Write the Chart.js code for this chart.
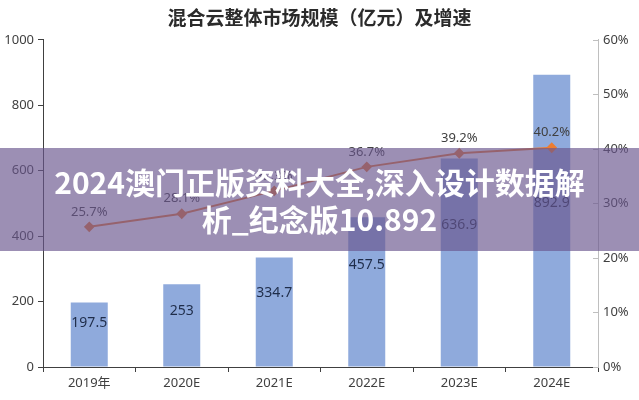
<!DOCTYPE html>
<html lang="zh">
	<head>
		<meta charset="UTF-8">
		<title>混合云整体市场规模</title>
		<script src="https://cdn.jsdelivr.net/npm/chart.js"></script>
		<style>
			body { margin: 0; background: #fff; }
			#wrap { position: relative; width: 639px; height: 400px; }
			#banner {
				position: absolute; left: 0; top: 148px; width: 639px; height: 103px;
				background: rgba(105, 85, 141, 0.66);
				color: #fff; font: bold 30px "Noto Sans CJK SC", sans-serif;
				text-align: center; line-height: 37px; padding-top: 15px; box-sizing: border-box;
			}
		</style>
	</head>
	<body>
		<div id="wrap">
			<canvas id="chart" width="639" height="400"></canvas>
			<div id="banner">2024澳门正版资料大全,深入设计数据解<br>析_纪念版10.892</div>
		</div>

		<script>
			// chart data
			const years = ['2019年', '2020E', '2021E', '2022E', '2023E', '2024E'];
			const marketSize = [197.5, 253, 334.7, 457.5, 636.9, 892.9]; // 亿元
			const growth = [25.7, 28.1, 32.3, 36.7, 39.2, 40.2]; // %

			const tickFont = { family: '"Noto Sans", "Noto Sans CJK SC", sans-serif', size: 13 };

			// value labels + inward ticks on the right axis
			const labelPlugin = {
				id: 'labels',
				afterDatasetsDraw(chart) {
					const ctx = chart.ctx;
					const y = chart.scales.y;
					ctx.save();
					ctx.textAlign = 'center';
					ctx.textBaseline = 'middle';

					ctx.font = '14px "Noto Sans", sans-serif';
					ctx.fillStyle = '#1f2d4a';
					chart.getDatasetMeta(1).data.forEach((bar, i) => {
						// bigger bars carry their label lower down
						const f = marketSize[i] > 800 ? 0.56 : 0.68;
						ctx.fillText(String(marketSize[i]), bar.x, y.getPixelForValue(marketSize[i] * f));
					});

					ctx.font = '13px "Noto Sans", sans-serif';
					ctx.fillStyle = '#404040';
					chart.getDatasetMeta(0).data.forEach((pt, i) => {
						ctx.fillText(growth[i].toFixed(1) + '%', pt.x, pt.y - 15);
					});

					const r = chart.scales.y1;
					ctx.strokeStyle = '#bfbfbf';
					ctx.lineWidth = 1;
					r.ticks.forEach(t => {
						const py = Math.round(r.getPixelForValue(t.value)) + 0.5;
						ctx.beginPath();
						ctx.moveTo(r.left - 5, py);
						ctx.lineTo(r.left, py);
						ctx.stroke();
					});
					ctx.restore();
				}
			};

			new Chart(document.getElementById('chart'), {
				data: {
					labels: years,
					datasets: [{
						type: 'line',
						data: growth,
						yAxisID: 'y1',
						borderColor: '#ed7d31',
						backgroundColor: '#ed7d31',
						borderWidth: 2,
						pointStyle: 'rectRot',
						pointRadius: 4,
						tension: 0,
						order: 0
					}, {
						type: 'bar',
						data: marketSize,
						yAxisID: 'y',
						backgroundColor: '#8faadc',
						barPercentage: 0.4,
						categoryPercentage: 1,
						order: 1
					}]
				},
				options: {
					responsive: false,
					animation: false,
					plugins: {
						legend: { display: false },
						tooltip: { enabled: false },
						title: {
							display: true,
							text: '混合云整体市场规模（亿元）及增速',
							color: '#2b2b2b',
							font: { family: '"Noto Sans CJK SC", sans-serif', size: 19, weight: 'bold' },
							padding: { top: 6, bottom: 11 }
						}
					},
					scales: {
						x: {
							offset: true,
							grid: { offset: true, drawOnChartArea: false, tickLength: 5, color: '#404040' },
							border: { color: '#404040' },
							ticks: { color: '#404040', font: tickFont, padding: 3 },
							afterFit: s => { s.height = 33; }
						},
						y: {
							position: 'left',
							min: 0, max: 1000,
							ticks: { stepSize: 200, color: '#404040', font: tickFont, padding: 4, callback: v => String(v) },
							grid: { drawOnChartArea: false, tickLength: 5, color: '#404040' },
							border: { color: '#404040' },
							afterFit: s => { s.width = 43; }
						},
						y1: {
							position: 'right',
							min: 0, max: 60,
							ticks: { stepSize: 10, color: '#404040', font: tickFont, padding: 5, callback: v => v + '%' },
							grid: { drawOnChartArea: false, drawTicks: false },
							border: { color: '#bfbfbf' },
							afterFit: s => { s.width = 41; }
						}
					}
				},
				plugins: [labelPlugin]
			});
		</script>
	</body>
</html>
